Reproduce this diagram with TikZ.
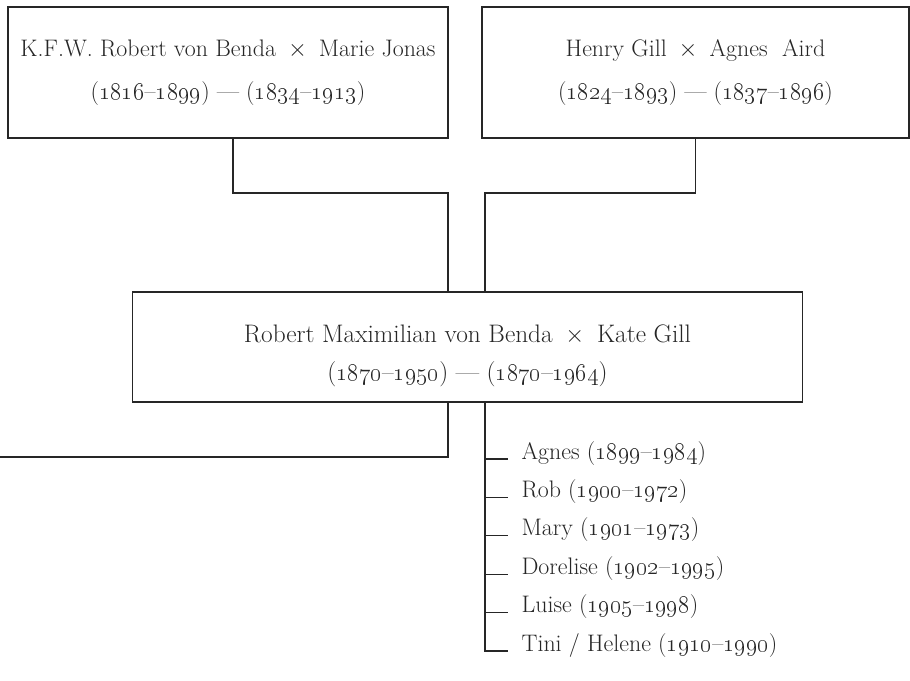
\documentclass[tikz,border=0pt]{standalone}
\usetikzlibrary{positioning, calc}
\definecolor{ink}{HTML}{262626}
\newcommand{\yrs}[2]{(\oldstylenums{#1}--\oldstylenums{#2})}
\newcommand{\wed}{\enspace$\times$\enspace}

\begin{document}
\begin{tikzpicture}[x=0.025cm, y=-0.025cm, line width=0.8pt, color=ink,
    couple/.style={draw, rectangle, align=center, inner sep=0pt,
        font=\fontsize{17}{30.5}\selectfont},
    kid/.style={anchor=base west, inner sep=0pt,
        font=\fontsize{17}{20}\selectfont}]
    \useasboundingbox (0, 0) rectangle (910, 680);
    \node[couple, minimum width=11cm, minimum height=3.275cm] (kfw)
        at (228, 72.5)
        {K.F.W. Robert von Benda\wed Marie Jonas\\ \yrs{1816}{1899} --- \yrs{1834}{1913}};
    \node[couple, minimum width=10.675cm, minimum height=3.275cm] (gill)
        at (695.5, 72.5)
        {Henry Gill\wed Agnes\ \ Aird\\ \yrs{1824}{1893} --- \yrs{1837}{1896}};
    \node[couple, minimum width=16.725cm, minimum height=2.75cm,
        font=\fontsize{18}{27}\selectfont, text height=1.85cm] (robmax)
        at (467.5, 347)
        {Robert Maximilian von Benda\wed Kate Gill\\ \yrs{1870}{1950} --- \yrs{1870}{1964}};
    \coordinate (joinl) at (448, 193);
    \coordinate (joinr) at (485, 193);
    \draw (kfw.south -| 233, 0) |- (joinl) -- (joinl |- robmax.north);
    \draw (gill.south) |- (joinr) -- (joinr |- robmax.north);
    \coordinate (away) at (0, 457);
    \draw (robmax.south -| joinl) |- (away);
    \node[kid] (agnes) at (521, 459) {Agnes \yrs{1899}{1984}};
    \node[kid] (rob) at (521, 497.4) {Rob \yrs{1900}{1972}};
    \node[kid] (mary) at (521, 535.8) {Mary \yrs{1901}{1973}};
    \node[kid] (dorelise) at (521, 574.2) {Dorelise \yrs{1902}{1995}};
    \node[kid] (luise) at (521, 612.6) {Luise \yrs{1905}{1998}};
    \node[kid] (tini) at (521, 651) {Tini / Helene \yrs{1910}{1990}};
    \draw (robmax.south -| joinr) |- ([xshift=-13*0.025cm]tini.base west);
    \foreach \kid in {agnes, rob, mary, dorelise, luise}
        \draw (joinr |- \kid.base west) -- ([xshift=-13*0.025cm]\kid.base west);
\end{tikzpicture}
\end{document}
